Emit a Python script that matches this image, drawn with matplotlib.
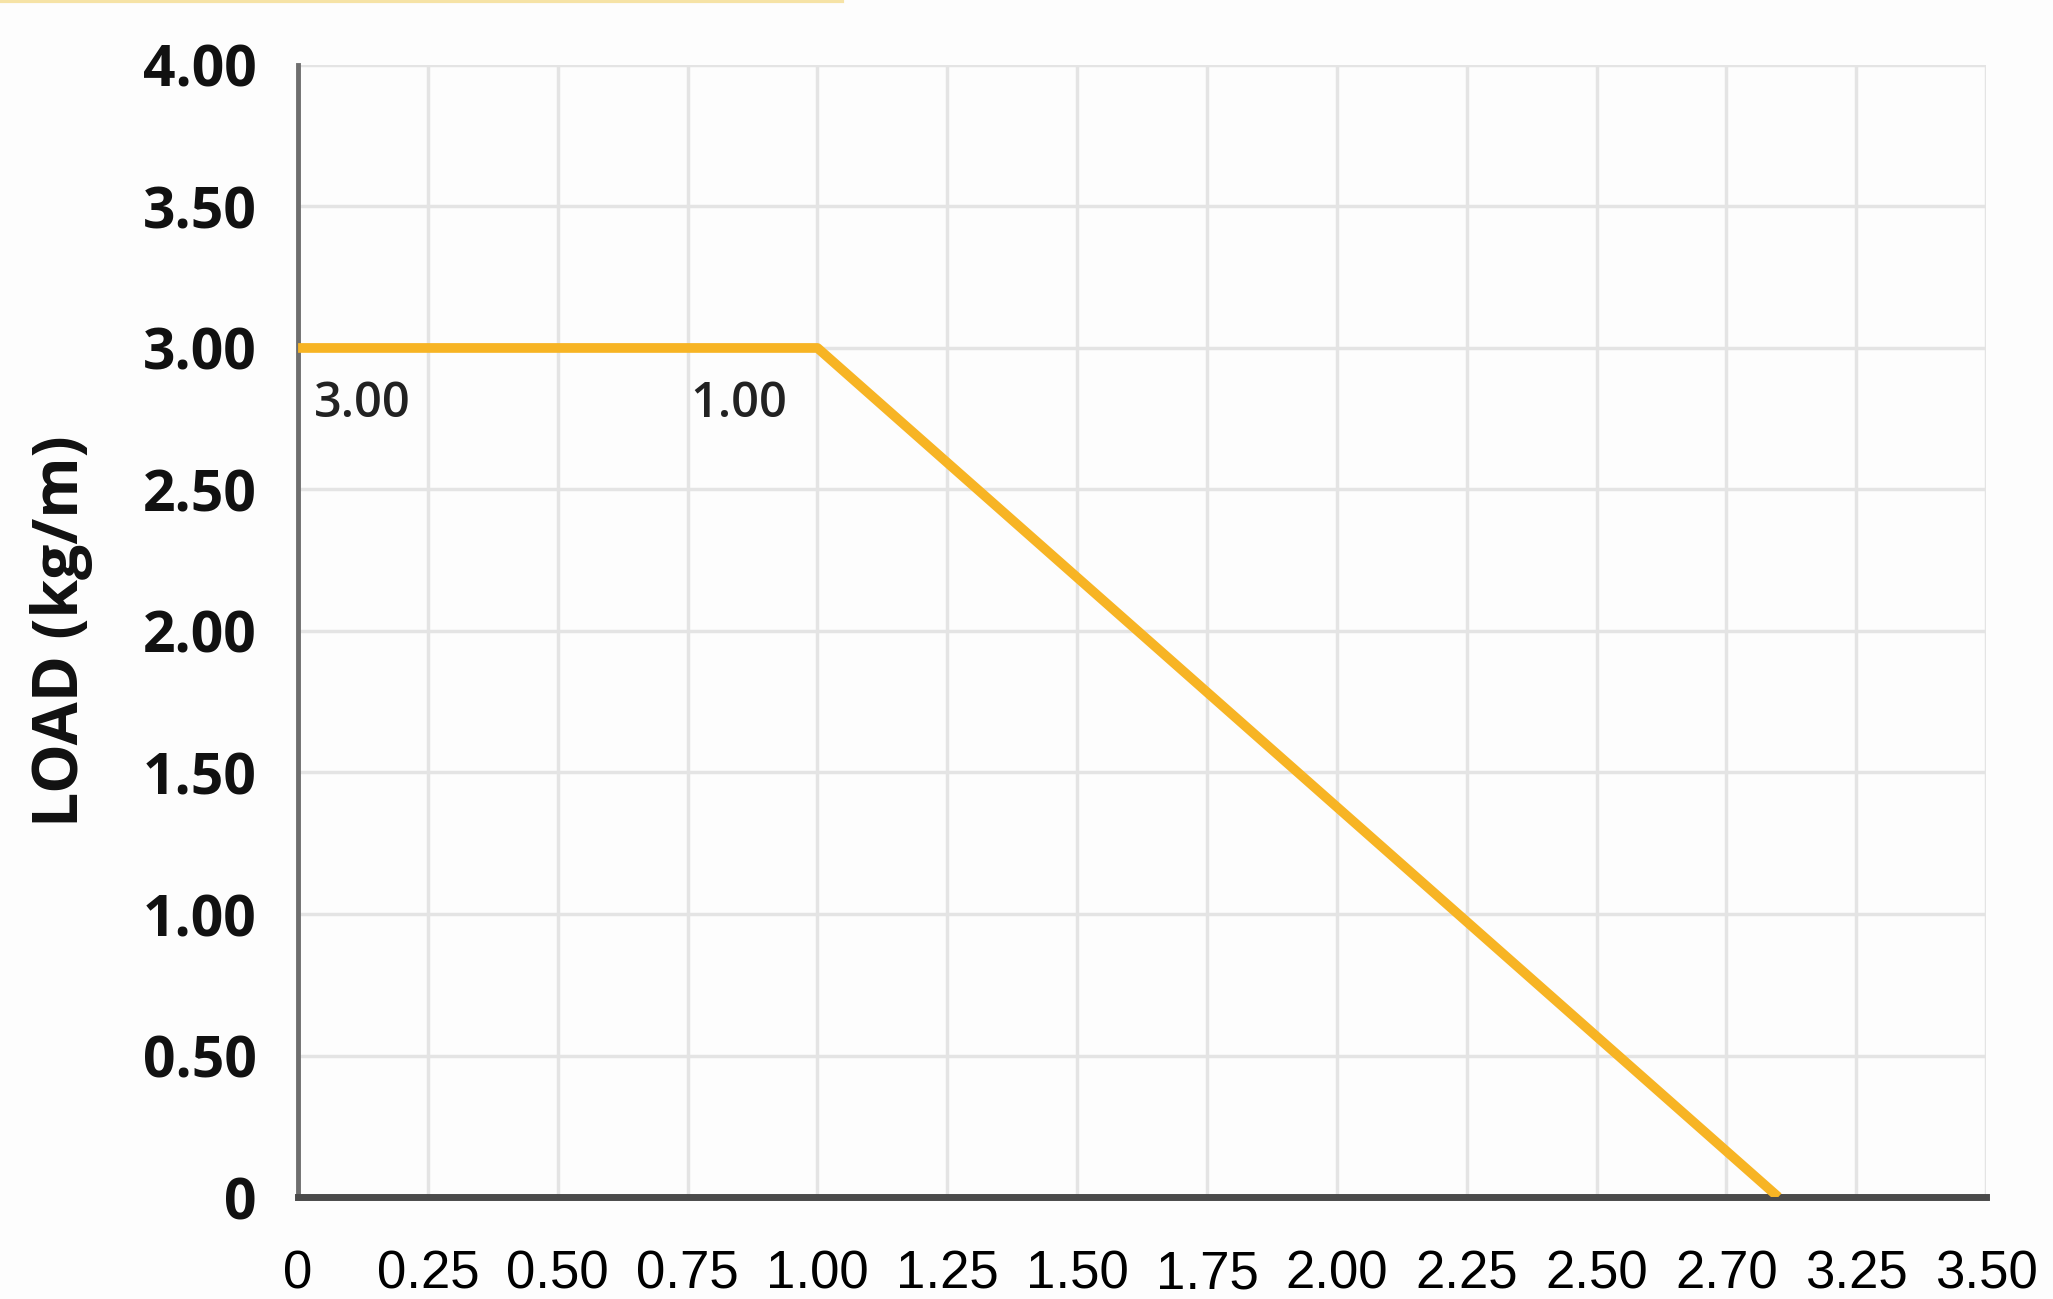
import matplotlib.pyplot as plt
from matplotlib.lines import Line2D

# Load curve data (span in m, load in kg/m)
span = [0.0, 1.00, 2.85]
load = [3.00, 3.00, 0.0]

# Point labels
point_text = ["3.00", "1.00"]
point_x = [0.03, 0.755]
point_y = [2.80, 2.80]

# Axis ticks
x_ticks = [0, 0.25, 0.50, 0.75, 1.00, 1.25, 1.50, 1.75, 2.00, 2.25, 2.50, 2.75, 3.00, 3.25]
x_labels = ["0", "0.25", "0.50", "0.75", "1.00", "1.25", "1.50", "1.75",
            "2.00", "2.25", "2.50", "2.70", "3.25", "3.50"]
y_ticks = [0, 0.5, 1.0, 1.5, 2.0, 2.5, 3.0, 3.5, 4.0]
y_labels = ["0", "0.50", "1.00", "1.50", "2.00", "2.50", "3.00", "3.50", "4.00"]

orange = "#F7B424"

fig = plt.figure(figsize=(20.53, 12.99), dpi=100)
fig.patch.set_facecolor("#fdfdfd")
ax = fig.add_axes([0.1452, 0.0785, 0.8222, 0.8715])
ax.set_facecolor("#fdfdfd")

# faint banner line at the very top
fig.add_artist(Line2D([0, 0.41], [0.999, 0.999], transform=fig.transFigure,
                      color="#F6E3A6", lw=3))

ax.plot(span, load, color=orange, lw=7, solid_capstyle="butt", zorder=3)

for t, x, y in zip(point_text, point_x, point_y):
    ax.text(x, y, t, fontsize=35, family="Open Sans", fontweight="semibold",
            color="#222222", ha="left", va="center")

ax.set_xlim(0, 3.25)
ax.set_ylim(0, 4.0)
ax.set_xticks(x_ticks)
ax.set_xticklabels(x_labels, fontsize=38, family="Liberation Sans", color="#000000")
ax.set_yticks(y_ticks)
ax.set_yticklabels(y_labels, fontsize=41, family="Open Sans", fontweight="bold",
                   color="#111111")
ax.tick_params(axis="both", length=0)
ax.tick_params(axis="x", pad=38)
ax.tick_params(axis="y", pad=30)

ax.grid(True, color="#e4e4e4", lw=2.5)
ax.set_axisbelow(True)

for s in ["top", "right"]:
    ax.spines[s].set_visible(False)
ax.spines["left"].set_color("#6e6e6e")
ax.spines["left"].set_linewidth(3.5)
ax.spines["bottom"].set_color("#4a4a4a")
ax.spines["bottom"].set_linewidth(5)

ax.set_ylabel("LOAD (kg/m)", fontsize=45, family="Open Sans", fontweight="bold",
              color="#111111", labelpad=36)

plt.savefig("out.png", dpi=100, facecolor=fig.get_facecolor())
plt.close()
